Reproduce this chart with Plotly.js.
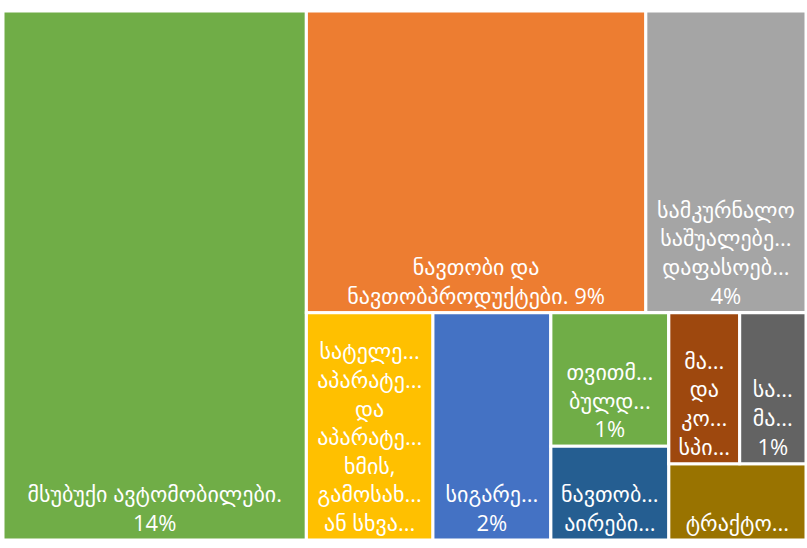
<!DOCTYPE html>
<html>
<head>
<meta charset="utf-8">
<script src="https://cdn.plot.ly/plotly-3.0.1.min.js"></script>
<style>
  html, body { margin: 0; padding: 0; background: #fff; }
  #chart { width: 807px; height: 548px; }
</style>
</head>
<body>
<div id="chart"></div>
<script>
"use strict"

// leaf tiles (share of imports, %)
var labels = [
	'მსუბუქი ავტომობილები.',
	'ნავთობი და<br>ნავთობპროდუქტები.',
	'სამკურნალო<br>საშუალებე...<br>დაფასოებ...',
	'სატელე...<br>აპარატე...<br>და<br>აპარატე...<br>ხმის,<br>გამოსახ...<br>ან სხვა...',
	'სიგარე...',
	'თვითმ...<br>ბულდ...',
	'ნავთობ...<br>აირები...',
	'მა...<br>და<br>კო...<br>სპი...',
	'სა...<br>მა...',
	'ტრაქტო...'
];
var values = [13.95, 8.9, 4.2, 2.5, 2.33, 1.37, 0.96, 0.93, 0.87, 0.91];
var colors = ['#70AD47', '#ED7D31', '#A5A5A5', '#FFC000', '#4472C4',
	'#70AD47', '#255E91', '#9E480E', '#636363', '#997300'];
// how the percentage follows the name ('' = not shown, cut off in the original)
var pctSep = ['<br>', ' ', '<br>', '', '<br>', '<br>', '', '', '<br>', ''];

// how the tiles are grouped into rows and columns (numbers = leaf index)
var tree = [0, [[1, 2], [3, 4, [5, 6], [[7, 8], 9]]]];

var ids = [], parents = [], vals = [], texts = [], cols = [];
var groupCount = 0;

function walk(children, parentId) {
	children.forEach(function(node) {
		if (Array.isArray(node)) {
			var gid = 'g' + (groupCount++);
			ids.push(gid);
			parents.push(parentId);
			vals.push(0);
			texts.push('');
			cols.push('rgba(255,255,255,0)');
			walk(node, gid);
		} else {
			ids.push('t' + node);
			parents.push(parentId);
			vals.push(values[node]);
			var t = labels[node];
			if (pctSep[node] !== '') t += pctSep[node] + Math.round(values[node]) + '%';
			texts.push(t);
			cols.push(colors[node]);
		}
	});
}
walk(tree, '');

var trace = {
	type: 'treemap',
	ids: ids,
	labels: ids,
	parents: parents,
	values: vals,
	text: texts,
	branchvalues: 'remainder',
	sort: false,
	texttemplate: '%{text}',
	hoverinfo: 'skip',
	textposition: 'bottom center',
	textfont: { family: 'Open Sans, DejaVu Sans, sans-serif', size: 22, color: '#ffffff' },
	marker: {
		colors: cols,
		line: { color: '#ffffff', width: 3 },
		pad: { t: 0, l: 0, r: 0, b: 0 }
	},
	tiling: { packing: 'slice-dice', pad: 0 },
	pathbar: { visible: false }
};

var layout = {
	width: 807,
	height: 548,
	margin: { l: 3, r: 1, t: 11, b: 8, pad: 0 },
	paper_bgcolor: '#ffffff',
	showlegend: false
};

Plotly.newPlot('chart', [trace], layout, { displayModeBar: false, staticPlot: true });
</script>
</body>
</html>
